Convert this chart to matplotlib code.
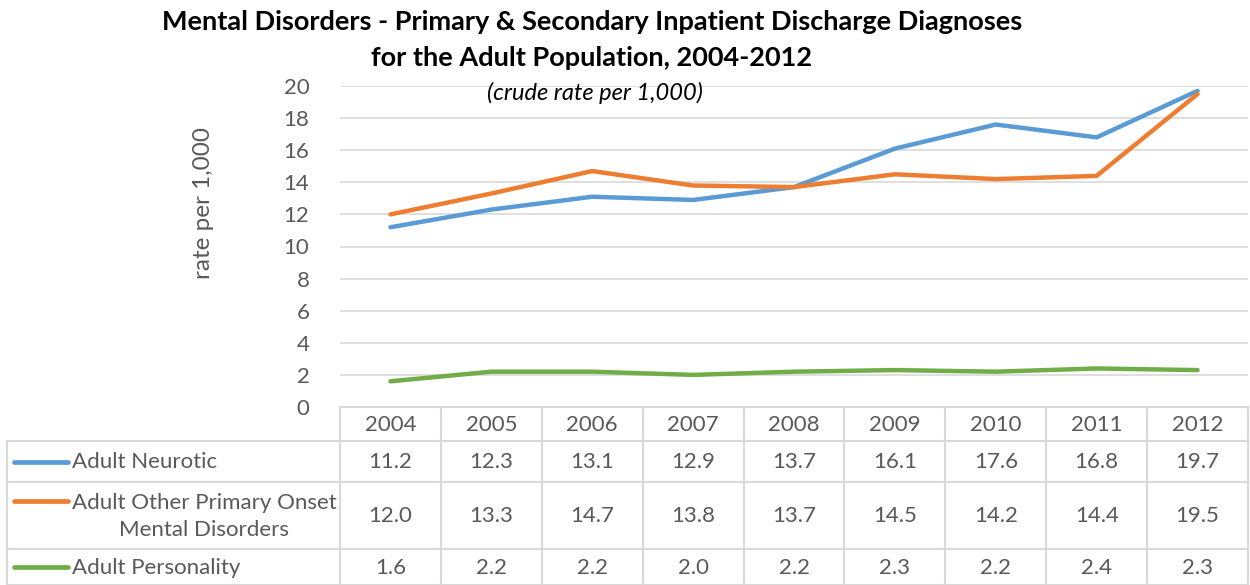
import matplotlib.pyplot as plt
import numpy as np

years = ['2004', '2005', '2006', '2007', '2008', '2009', '2010', '2011', '2012']
neurotic = [11.2, 12.3, 13.1, 12.9, 13.7, 16.1, 17.6, 16.8, 19.7]
other_primary = [12.0, 13.3, 14.7, 13.8, 13.7, 14.5, 14.2, 14.4, 19.5]
personality = [1.6, 2.2, 2.2, 2.0, 2.2, 2.3, 2.2, 2.4, 2.3]
series_names = ['Adult Neurotic', 'Adult Other Primary Onset\nMental Disorders', 'Adult Personality']
series_values = [neurotic, other_primary, personality]
colors = ['#5B9BD5', '#ED7D31', '#70AD47']

plt.rcParams['font.family'] = ['Lato', 'DejaVu Sans']
txt = '#595959'
grid = '#D9D9D9'

W, H = 1250, 585
fig = plt.figure(figsize=(12.5, 5.85), dpi=100)

# plot area in pixel coords
px0, px1, py0, py1 = 340, 1248, 86, 407
ax = fig.add_axes([px0 / W, 1 - py1 / H, (px1 - px0) / W, (py1 - py0) / H])
x = np.arange(len(years))
for vals, c in zip(series_values, colors):
    ax.plot(x, vals, color=c, lw=3.2, solid_capstyle='round', zorder=3)
ax.set_xlim(-0.5, len(years) - 0.5)
ax.set_ylim(0, 20)
ax.set_yticks(range(0, 21, 2))
ax.set_xticks([])
ax.grid(axis='y', color=grid, lw=1.2)
ax.set_axisbelow(True)
for s in ax.spines.values():
    s.set_visible(False)
ax.tick_params(axis='y', length=0, labelsize=16, labelcolor=txt, pad=22)

# overlay for title and table (pixel coords)
ov = fig.add_axes([0, 0, 1, 1], facecolor='none')
ov.set_xlim(0, W)
ov.set_ylim(H, 0)
ov.axis('off')

ov.text(203, 203, 'rate per 1,000', rotation=90, ha='center', va='center',
        fontsize=17.5, color=txt)
ov.text(592, 22, 'Mental Disorders - Primary & Secondary Inpatient Discharge Diagnoses',
        ha='center', va='center', fontsize=19.5, fontweight='bold', color='black')
ov.text(592, 58, 'for the Adult Population, 2004-2012',
        ha='center', va='center', fontsize=19.5, fontweight='bold', color='black')
ov.text(595, 93, '(crude rate per 1,000)', ha='center', va='center',
        fontsize=17, style='italic', color='black')

# table
colw = (px1 - px0) / len(years)
row_edges = [407, 441, 482, 549, 585]
lkw = dict(color=grid, lw=1.5, zorder=1)
ov.plot([px0, px1], [row_edges[0], row_edges[0]], **lkw)
for r in row_edges[1:]:
    ov.plot([7, px1], [r, r], **lkw)
for i in range(len(years) + 1):
    ov.plot([px0 + i * colw] * 2, [row_edges[0], H], **lkw)
ov.plot([7, 7], [row_edges[1], H], **lkw)
for i, y in enumerate(years):
    ov.text(px0 + (i + 0.5) * colw, (row_edges[0] + row_edges[1]) / 2 + 1, y,
            ha='center', va='center', fontsize=16, color=txt)
for j, (name, vals, c) in enumerate(zip(series_names, series_values, colors)):
    yc = (row_edges[j + 1] + row_edges[j + 2]) / 2
    ky = yc - (15 if '\n' in name else 0)
    ov.plot([14, 68], [ky, ky], color=c, lw=3.4, solid_capstyle='round')
    ov.text(72, yc + 1, name, ha='left', va='center', fontsize=16, color=txt,
            linespacing=1.45, multialignment='center')
    for i, v in enumerate(vals):
        ov.text(px0 + (i + 0.5) * colw, yc + 1, f'{v:.1f}', ha='center', va='center',
                fontsize=16, color=txt)

fig.savefig('out.png', dpi=100)
